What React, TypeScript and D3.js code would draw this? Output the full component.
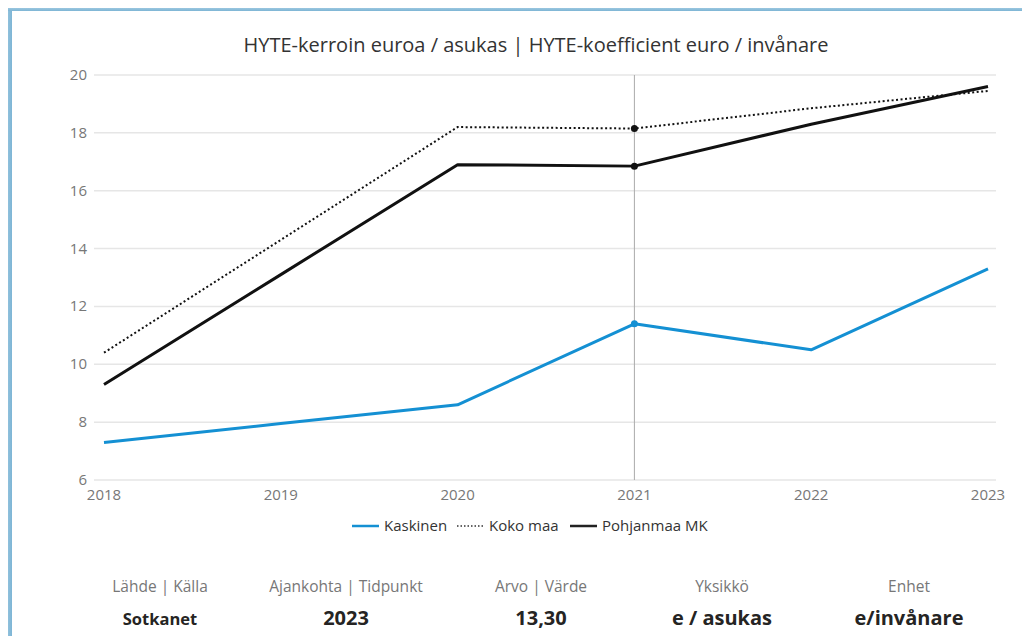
import * as d3 from 'd3';
import React, { useRef, useEffect } from 'react';

const years = [2018, 2019, 2020, 2021, 2022, 2023];
const kaskinen = [7.3, 7.95, 8.6, 11.4, 10.5, 13.3];
const kokoMaa = [10.4, 14.3, 18.2, 18.15, 18.85, 19.45];
const pohjanmaa = [9.3, 13.1, 16.9, 16.85, 18.3, 19.6];
const yTicks = [6, 8, 10, 12, 14, 16, 18, 20];

const infoLabels = ['Lähde | Källa', 'Ajankohta | Tidpunkt', 'Arvo | Värde', 'Yksikkö', 'Enhet'];
const infoValues = ['Sotkanet', '2023', '13,30', 'e / asukas', 'e/invånare'];

const W = 1030, H = 644;
const FONT = '"Open Sans", "Noto Sans", sans-serif';

export default function App() {
  const svgRef = useRef(null);

  useEffect(() => {
    if (!svgRef.current) return;
    const svg = d3.select(svgRef.current);
    svg.selectAll('*').remove();

    // frame shadow
    const defs = svg.append('defs');
    const gl = defs.append('linearGradient').attr('id', 'gl').attr('x1', 0).attr('x2', 1).attr('y1', 0).attr('y2', 0);
    gl.append('stop').attr('offset', 0).attr('stop-color', '#eef6fa');
    gl.append('stop').attr('offset', 0.35).attr('stop-color', '#a3cce3');
    gl.append('stop').attr('offset', 1).attr('stop-color', '#7db5d5');
    const gt = defs.append('linearGradient').attr('id', 'gt').attr('x1', 0).attr('x2', 0).attr('y1', 0).attr('y2', 1);
    gt.append('stop').attr('offset', 0).attr('stop-color', '#f4f9fc');
    gt.append('stop').attr('offset', 0.5).attr('stop-color', '#b3d5e8');
    gt.append('stop').attr('offset', 1).attr('stop-color', '#7db5d5');

    svg.append('rect').attr('width', W).attr('height', H).attr('fill', '#fff');
    svg.append('rect').attr('x', 0).attr('y', 0).attr('width', 12).attr('height', H).attr('fill', 'url(#gl)');
    svg.append('rect').attr('x', 0).attr('y', 0).attr('width', W).attr('height', 11).attr('fill', 'url(#gt)');
    svg.append('rect').attr('x', 12).attr('y', 11).attr('width', W - 12).attr('height', H - 11).attr('fill', '#fff');

    // title
    svg.append('text')
      .attr('x', 536).attr('y', 52)
      .attr('text-anchor', 'middle')
      .attr('font-family', FONT).attr('font-size', 20)
      .attr('fill', '#333')
      .text('HYTE-kerroin euroa / asukas | HYTE-koefficient euro / invånare');

    const x = d3.scalePoint<number>().domain(years).range([104, 988]);
    const y = d3.scaleLinear().domain([6, 20]).range([480, 75]);

    // grid
    const grid = svg.append('g');
    yTicks.forEach(t => {
      grid.append('line')
        .attr('x1', 94).attr('x2', 996)
        .attr('y1', y(t)).attr('y2', y(t))
        .attr('stroke', '#e6e6e6').attr('stroke-width', 1.5);
      grid.append('text')
        .attr('x', 87).attr('y', y(t) + 5)
        .attr('text-anchor', 'end')
        .attr('font-family', FONT).attr('font-size', 15)
        .attr('fill', '#777')
        .text(t);
    });

    years.forEach(yr => {
      svg.append('text')
        .attr('x', x(yr)).attr('y', 500)
        .attr('text-anchor', 'middle')
        .attr('font-family', FONT).attr('font-size', 15)
        .attr('fill', '#777')
        .text(yr);
    });

    // hover line at 2021
    svg.append('line')
      .attr('x1', x(2021)).attr('x2', x(2021))
      .attr('y1', 75).attr('y2', 480)
      .attr('stroke', '#aaa').attr('stroke-width', 1);

    const line = d3.line<number>().x((d, i) => x(years[i])!).y(d => y(d));

    svg.append('path').attr('d', line(kaskinen)).attr('fill', 'none')
      .attr('stroke', '#1490d3').attr('stroke-width', 3).attr('stroke-linejoin', 'round');
    svg.append('path').attr('d', line(kokoMaa)).attr('fill', 'none')
      .attr('stroke', '#111').attr('stroke-width', 2).attr('stroke-dasharray', '2,2.5');
    svg.append('path').attr('d', line(pohjanmaa)).attr('fill', 'none')
      .attr('stroke', '#111').attr('stroke-width', 3).attr('stroke-linejoin', 'round');

    const hi = years.indexOf(2021);
    [[kaskinen, '#1490d3'], [kokoMaa, '#111'], [pohjanmaa, '#111']].forEach(([s, c]) => {
      svg.append('circle')
        .attr('cx', x(2021)).attr('cy', y((s as number[])[hi]))
        .attr('r', 3.5).attr('fill', c as string);
    });

    // legend
    const leg = svg.append('g').attr('font-family', FONT).attr('font-size', 15).attr('fill', '#333');
    const legendItems = [
      { name: 'Kaskinen', color: '#1490d3', dash: null, w: 2.5, x0: 352 },
      { name: 'Koko maa', color: '#333', dash: '1.5,2', w: 1.5, x0: 457 },
      { name: 'Pohjanmaa MK', color: '#222', dash: null, w: 2.5, x0: 570 },
    ];
    legendItems.forEach(it => {
      const l = leg.append('line')
        .attr('x1', it.x0).attr('x2', it.x0 + 27)
        .attr('y1', 526).attr('y2', 526)
        .attr('stroke', it.color).attr('stroke-width', it.w);
      if (it.dash) l.attr('stroke-dasharray', it.dash);
      leg.append('text').attr('x', it.x0 + 32).attr('y', 531).text(it.name);
    });

    // info cards
    const centers = [160, 346, 541, 722, 909];
    infoLabels.forEach((lab, i) => {
      svg.append('text')
        .attr('x', centers[i]).attr('y', 592)
        .attr('text-anchor', 'middle')
        .attr('font-family', FONT).attr('font-size', 15.5)
        .attr('fill', '#777')
        .text(lab);
      svg.append('text')
        .attr('x', centers[i]).attr('y', 625)
        .attr('text-anchor', 'middle')
        .attr('font-family', FONT).attr('font-size', i === 0 ? 16.5 : 20)
        .attr('font-weight', 'bold')
        .attr('fill', '#252423')
        .text(infoValues[i]);
    });
  }, []);

  return (
    <div style={{ margin: -8 }}>
      <svg ref={svgRef} width={W} height={H} style={{ display: 'block' }} />
    </div>
  );
}
